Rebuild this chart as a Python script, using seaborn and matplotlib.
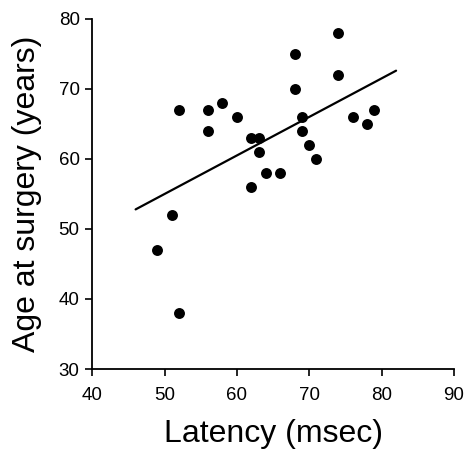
import numpy as np
import pandas as pd
import matplotlib
matplotlib.use("Agg")
import matplotlib.pyplot as plt
import seaborn as sns

# values
latency = [52, 56, 58, 60, 56, 62, 63, 63, 64, 66, 62, 68, 68, 74, 74,
           69, 69, 70, 71, 76, 78, 79, 51, 49, 52]
age = [67, 67, 68, 66, 64, 63, 63, 61, 58, 58, 56, 75, 70, 78, 72,
       66, 64, 62, 60, 66, 65, 67, 52, 47, 38]
fit_range = [46, 82]
x_ticks = [40, 50, 60, 70, 80, 90]
y_ticks = [30, 40, 50, 60, 70, 80]

df = pd.DataFrame({"Latency": latency, "Age": age})

sns.set_style("ticks")
plt.rcParams["font.family"] = ["Liberation Sans", "DejaVu Sans"]
plt.rcParams["text.color"] = "black"
plt.rcParams["axes.labelcolor"] = "black"
plt.rcParams["xtick.color"] = "black"
plt.rcParams["ytick.color"] = "black"

fig = plt.figure(figsize=(4.68, 4.5), dpi=100)
ax = fig.add_axes([0.197, 0.18, 0.773, 0.778])

sns.scatterplot(data=df, x="Latency", y="Age", color="black", s=62,
                edgecolor="black", linewidth=0, ax=ax, zorder=3)

# least squares line drawn over a slightly wider range than the data
slope, intercept = np.polyfit(df["Latency"], df["Age"], 1)
xs = np.array(fit_range, dtype=float)
sns.lineplot(x=xs, y=slope * xs + intercept, color="black", linewidth=1.6, ax=ax)

ax.set_xlim(40, 90)
ax.set_ylim(30, 80)
ax.set_xticks(x_ticks)
ax.set_yticks(y_ticks)
ax.tick_params(labelsize=13.5, length=5, width=1.2, colors="black")
ax.tick_params(axis="x", pad=8)
ax.tick_params(axis="y", pad=4)
ax.set_xlabel("Latency (msec)", fontsize=23, labelpad=11)
ax.set_ylabel("Age at surgery (years)", fontsize=23, labelpad=12)
sns.despine(ax=ax)
for sp in ["left", "bottom"]:
    ax.spines[sp].set_linewidth(1.3)
    ax.spines[sp].set_color("black")

fig.savefig("out.png", dpi=100)
